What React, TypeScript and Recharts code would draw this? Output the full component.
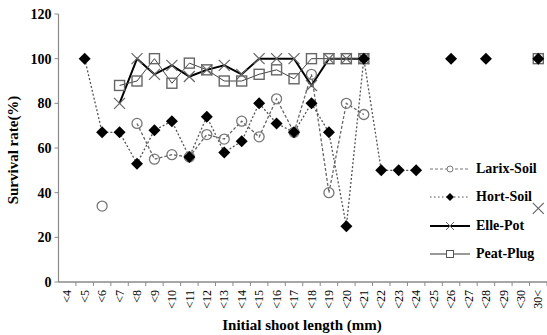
import { Label, Line, LineChart, XAxis, YAxis } from 'recharts';

const WIDTH = 547;
const HEIGHT = 335;
const MARGIN = { top: 14, right: 0, bottom: 0, left: 8 };
const X_AXIS_HEIGHT = 53;
const Y_AXIS_WIDTH = 50.5;
const AXIS_COLOR = '#8a8a8a';
const FONT = '"Liberation Serif", "Times New Roman", serif';

const categories = [
  '<4', '<5', '<6', '<7', '<8', '<9', '<10', '<11', '<12', '<13', '<14', '<15', '<16', '<17',
  '<18', '<19', '<20', '<21', '<22', '<23', '<24', '<25', '<26', '<27', '<28', '<29', '<30', '30<',
];

const larixSoil = [
  null, null, 34, null, 71, 55, 57, 56, 66, 64, 72, 65, 82, 67,
  93, 40, 80, 75, null, null, null, null, null, null, null, null, null, null,
];
const hortSoil = [
  null, 100, 67, 67, 53, 68, 72, 56, 74, 58, 63, 80, 71, 67,
  80, 67, 25, 100, 50, 50, 50, null, 100, null, 100, null, null, 100,
];
const ellePot = [
  null, null, null, 80, 100, 93, 97, 92, 95, 97, 93, 100, 100, 100,
  88, 100, 100, 100, null, null, null, null, null, null, null, null, null, 33,
];
const peatPlug = [
  null, null, null, 88, 90, 100, 89, 98, 95, 90, 90, 93, 95, 91,
  100, 100, 100, 100, null, null, null, null, null, null, null, null, null, 100,
];

const yTicks = [0, 20, 40, 60, 80, 100, 120];

const data = categories.map((c, i) => ({
  idx: i,
  cat: c,
  larix: larixSoil[i],
  hort: hortSoil[i],
  elle: ellePot[i],
  peat: peatPlug[i],
}));

const HALF_BAND = (WIDTH - MARGIN.left - Y_AXIS_WIDTH - MARGIN.right) / categories.length / 2;

function XTick(props: any) {
  const { x, y, payload } = props;
  const label = categories[payload.value] ?? '';
  return (
    <g>
      <line x1={x + HALF_BAND} x2={x + HALF_BAND} y1={y} y2={y + 4} stroke={AXIS_COLOR} strokeWidth={1} />
      <text
        x={x}
        y={y + 8}
        dy="0.35em"
        transform={`rotate(-90, ${x}, ${y + 8})`}
        textAnchor="end"
        fontFamily={FONT}
        fontSize={12}
        fill="#000"
      >
        {label}
      </text>
    </g>
  );
}

function hidden(p: any) {
  return p.cx == null || p.cy == null || p.value == null;
}

function circleDot(p: any) {
  if (hidden(p)) return <g key={`l-${p.index}`} />;
  return <circle key={`l-${p.index}`} cx={p.cx} cy={p.cy} r={5} fill="none" stroke="#777" strokeWidth={1.3} />;
}

function diamondDot(p: any) {
  if (hidden(p)) return <g key={`h-${p.index}`} />;
  const { cx, cy } = p;
  const s = 6;
  return <path key={`h-${p.index}`} d={`M${cx},${cy - s}L${cx + s},${cy}L${cx},${cy + s}L${cx - s},${cy}Z`} fill="#000" />;
}

function crossDot(p: any) {
  if (hidden(p)) return <g key={`e-${p.index}`} />;
  const { cx, cy } = p;
  const s = 5.5;
  return (
    <path
      key={`e-${p.index}`}
      d={`M${cx - s},${cy - s}L${cx + s},${cy + s}M${cx - s},${cy + s}L${cx + s},${cy - s}`}
      stroke="#666"
      strokeWidth={1.2}
      fill="none"
    />
  );
}

function squareDot(p: any) {
  if (hidden(p)) return <g key={`p-${p.index}`} />;
  const { cx, cy } = p;
  return <rect key={`p-${p.index}`} x={cx - 5} y={cy - 5} width={10} height={10} fill="none" stroke="#666" strokeWidth={1.4} />;
}

const legendItems = [
  { name: 'Larix-Soil', stroke: '#777', dash: '3 2', width: 1.2, mark: 'circle' },
  { name: 'Hort-Soil', stroke: '#888', dash: '1.5 2.5', width: 1.5, mark: 'diamond' },
  { name: 'Elle-Pot', stroke: '#000', dash: undefined, width: 2, mark: 'cross' },
  { name: 'Peat-Plug', stroke: '#333', dash: undefined, width: 1, mark: 'square' },
];

function LegendMark({ mark }: { mark: string }) {
  if (mark === 'circle') return <circle cx={20} cy={6} r={3} fill="#fff" stroke="#777" strokeWidth={1} />;
  if (mark === 'diamond') return <path d="M20,2L24,6L20,10L16,6Z" fill="#000" />;
  if (mark === 'cross') return <path d="M16,2L24,10M16,10L24,2" stroke="#666" strokeWidth={1} />;
  return <rect x={16.5} y={2.5} width={7} height={7} fill="#fff" stroke="#555" strokeWidth={1} />;
}

function ChartLegend() {
  return (
    <div style={{ position: 'absolute', left: 430, top: 155 }}>
      {legendItems.map((it) => (
        <div key={it.name} style={{ display: 'flex', alignItems: 'center', height: 28.3 }}>
          <svg width={40} height={12} style={{ marginRight: 6 }}>
            <line x1={0} x2={40} y1={6} y2={6} stroke={it.stroke} strokeWidth={it.width} strokeDasharray={it.dash} />
            <LegendMark mark={it.mark} />
          </svg>
          <span style={{ fontFamily: FONT, fontWeight: 'bold', fontSize: 14, color: '#000' }}>{it.name}</span>
        </div>
      ))}
    </div>
  );
}

export default function App() {
  return (
    <div style={{ position: 'absolute', left: 0, top: 0, width: WIDTH, height: HEIGHT, background: '#fff' }}>
      <LineChart width={WIDTH} height={HEIGHT} data={data} margin={MARGIN}>
        <XAxis
          dataKey="idx"
          type="number"
          height={X_AXIS_HEIGHT}
          domain={[-0.5, categories.length - 0.5]}
          ticks={categories.map((_, i) => i)}
          interval={0}
          tick={<XTick />}
          tickLine={false}
          tickSize={0}
          tickMargin={0}
          axisLine={{ stroke: AXIS_COLOR, strokeWidth: 1.5 }}
        >
          <Label
            content={() => (
              <text x={302} y={330} textAnchor="middle" fontFamily={FONT} fontWeight="bold" fontSize={15} fill="#000">
                Initial shoot length (mm)
              </text>
            )}
          />
        </XAxis>
        <YAxis
          width={Y_AXIS_WIDTH}
          domain={[0, 120]}
          ticks={yTicks}
          interval={0}
          tickSize={4}
          tickMargin={3}
          tickLine={{ stroke: AXIS_COLOR }}
          axisLine={{ stroke: AXIS_COLOR, strokeWidth: 1.2 }}
          tick={{ fontFamily: FONT, fontWeight: 'bold', fontSize: 14, fill: '#000' }}
        >
          <Label
            content={() => (
              <text
                x={18}
                y={150}
                transform="rotate(-90, 18, 150)"
                textAnchor="middle"
                fontFamily={FONT}
                fontWeight="bold"
                fontSize={15}
                fill="#000"
              >
                Survival rate(%)
              </text>
            )}
          />
        </YAxis>
        <Line
          dataKey="larix"
          stroke="#666"
          strokeWidth={1.3}
          strokeDasharray="3 2"
          dot={circleDot}
          activeDot={false}
          isAnimationActive={false}
        />
        <Line
          dataKey="elle"
          stroke="#000"
          strokeWidth={2}
          dot={crossDot}
          activeDot={false}
          isAnimationActive={false}
        />
        <Line
          dataKey="peat"
          stroke="#444"
          strokeWidth={1}
          dot={squareDot}
          activeDot={false}
          isAnimationActive={false}
        />
        <Line
          dataKey="hort"
          stroke="#555"
          strokeWidth={1.3}
          strokeDasharray="2 2"
          dot={diamondDot}
          activeDot={false}
          isAnimationActive={false}
        />
      </LineChart>
      <ChartLegend />
    </div>
  );
}
